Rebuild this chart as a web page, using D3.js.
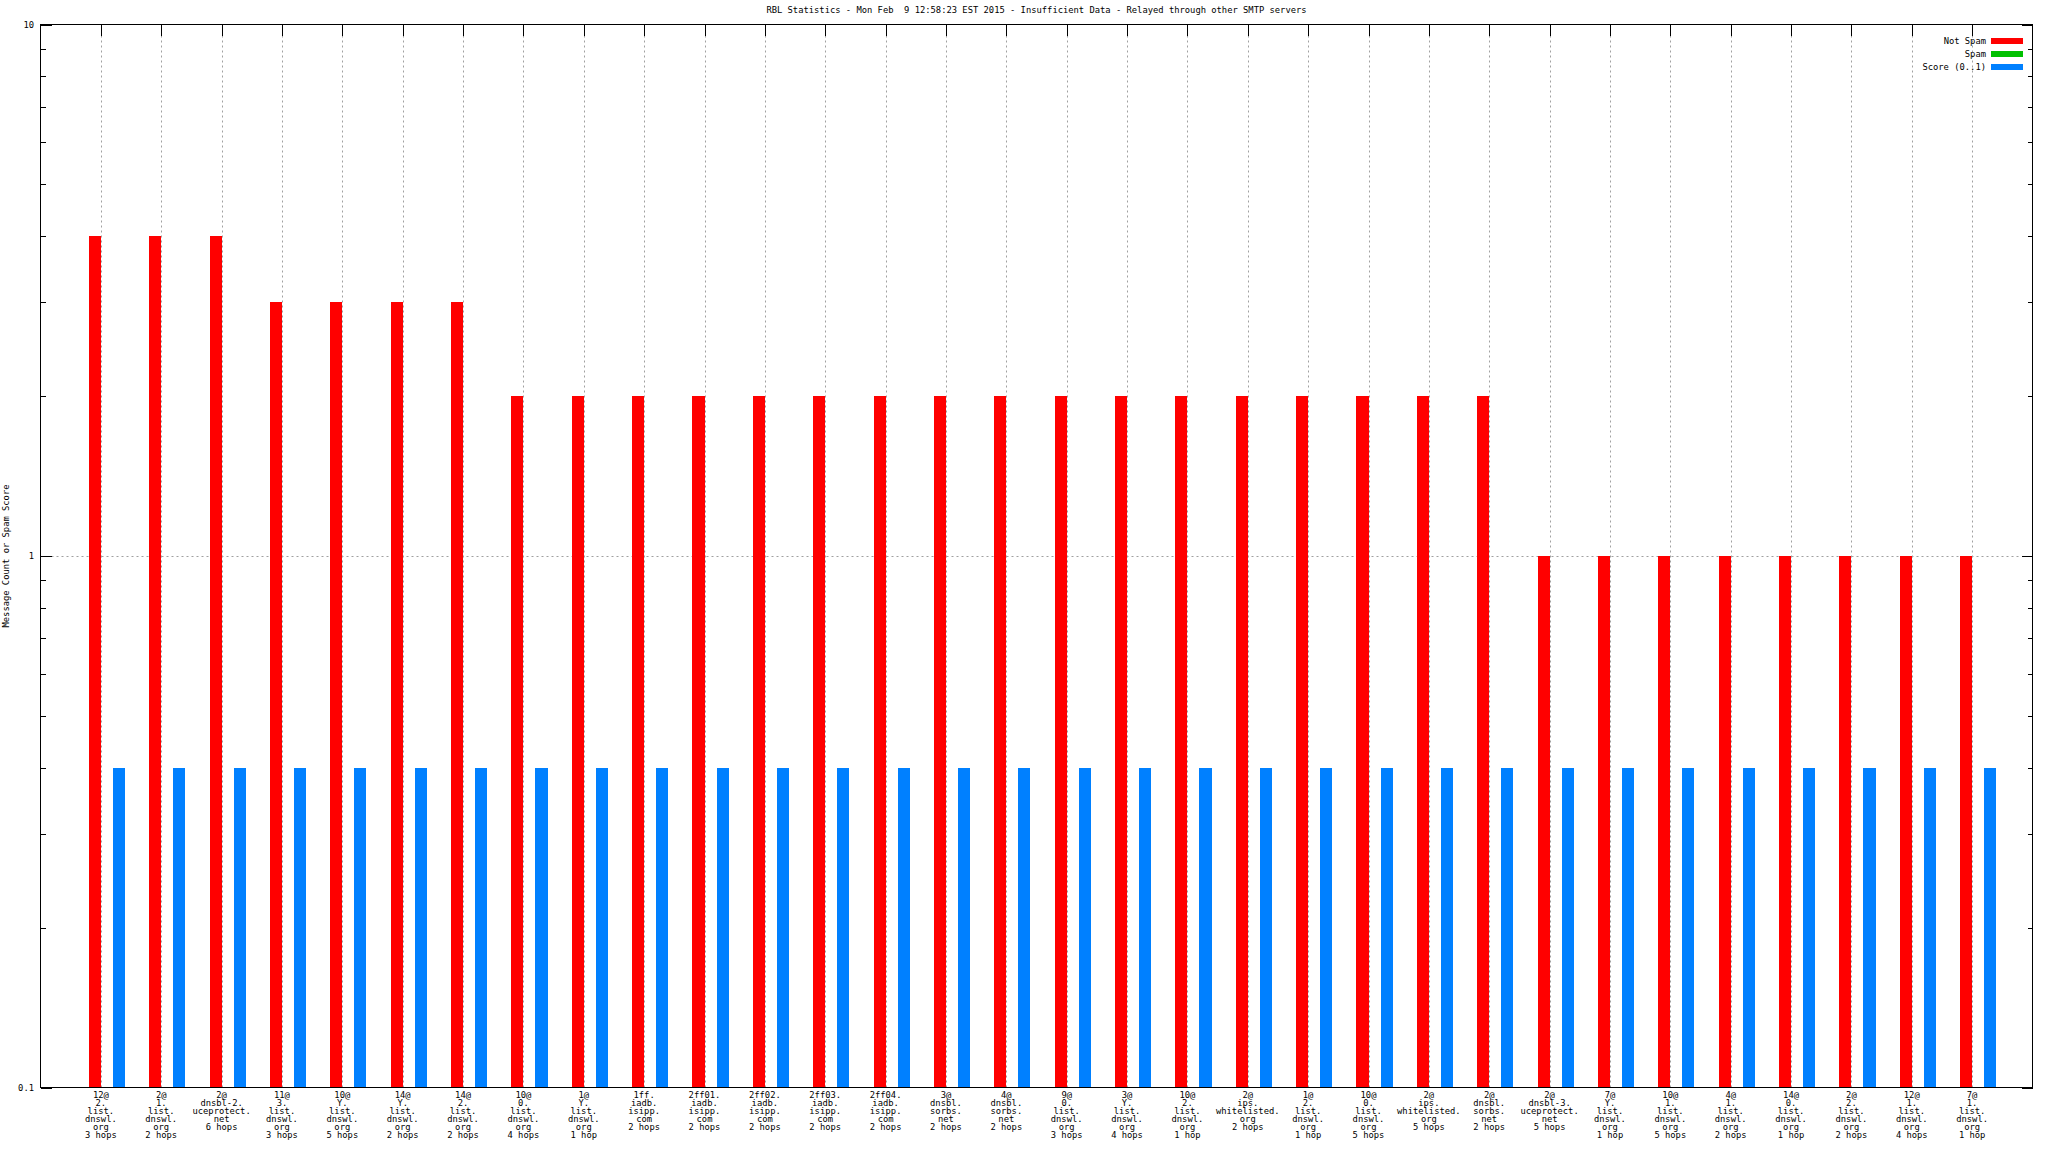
<!DOCTYPE html>
<html><head><meta charset="utf-8">
<script src="https://cdn.jsdelivr.net/npm/d3@7"></script>
<style>
html,body{margin:0;padding:0;background:#fff;}
svg{display:block;}
text{font-family:"DejaVu Sans Mono",monospace;font-size:8.8px;fill:#000;white-space:pre;}
</style></head><body>
<svg id="c" width="2048" height="1152"></svg>
<script>
const title = "RBL Statistics - Mon Feb  9 12:58:23 EST 2015 - Insufficient Data - Relayed through other SMTP servers";
const yLabel = "Message Count or Spam Score";
const categories = [
 "12@\n2.\nlist.\ndnswl.\norg\n3 hops",
 "2@\n1.\nlist.\ndnswl.\norg\n2 hops",
 "2@\ndnsbl-2.\nuceprotect.\nnet\n6 hops",
 "11@\n3.\nlist.\ndnswl.\norg\n3 hops",
 "10@\nY.\nlist.\ndnswl.\norg\n5 hops",
 "14@\nY.\nlist.\ndnswl.\norg\n2 hops",
 "14@\n2.\nlist.\ndnswl.\norg\n2 hops",
 "10@\n0.\nlist.\ndnswl.\norg\n4 hops",
 "1@\nY.\nlist.\ndnswl.\norg\n1 hop",
 "1ff.\niadb.\nisipp.\ncom\n2 hops",
 "2ff01.\niadb.\nisipp.\ncom\n2 hops",
 "2ff02.\niadb.\nisipp.\ncom\n2 hops",
 "2ff03.\niadb.\nisipp.\ncom\n2 hops",
 "2ff04.\niadb.\nisipp.\ncom\n2 hops",
 "3@\ndnsbl.\nsorbs.\nnet\n2 hops",
 "4@\ndnsbl.\nsorbs.\nnet\n2 hops",
 "9@\n0.\nlist.\ndnswl.\norg\n3 hops",
 "3@\nY.\nlist.\ndnswl.\norg\n4 hops",
 "10@\n2.\nlist.\ndnswl.\norg\n1 hop",
 "2@\nips.\nwhitelisted.\norg\n2 hops",
 "1@\n2.\nlist.\ndnswl.\norg\n1 hop",
 "10@\n0.\nlist.\ndnswl.\norg\n5 hops",
 "2@\nips.\nwhitelisted.\norg\n5 hops",
 "2@\ndnsbl.\nsorbs.\nnet\n2 hops",
 "2@\ndnsbl-3.\nuceprotect.\nnet\n5 hops",
 "7@\nY.\nlist.\ndnswl.\norg\n1 hop",
 "10@\n1.\nlist.\ndnswl.\norg\n5 hops",
 "4@\n1.\nlist.\ndnswl.\norg\n2 hops",
 "14@\n0.\nlist.\ndnswl.\norg\n1 hop",
 "2@\n2.\nlist.\ndnswl.\norg\n2 hops",
 "12@\n1.\nlist.\ndnswl.\norg\n4 hops",
 "7@\n1.\nlist.\ndnswl.\norg\n1 hop"
];
const notSpam = [4,4,4,3,3,3,3,2,2,2,2,2,2,2,2,2,2,2,2,2,2,2,2,2,1,1,1,1,1,1,1,1];
const spam    = [0,0,0,0,0,0,0,0,0,0,0,0,0,0,0,0,0,0,0,0,0,0,0,0,0,0,0,0,0,0,0,0];
const score   = [0.4,0.4,0.4,0.4,0.4,0.4,0.4,0.4,0.4,0.4,0.4,0.4,0.4,0.4,0.4,0.4,0.4,0.4,0.4,0.4,0.4,0.4,0.4,0.4,0.4,0.4,0.4,0.4,0.4,0.4,0.4,0.4];
const seriesNames = ["Not Spam","Spam","Score (0..1)"];
const seriesColors = ["#ff0000","#00c000","#0080ff"];
const yMajor = [0.1,1,10];

const L=40.5, R=2032.5, T=24.5, B=1087.5;
const svg = d3.select("#c");
const x = d3.scaleLinear().domain([-1, categories.length]).range([L, R]);
const y = d3.scaleLog().domain([0.1, 10]).range([B, T]);
const slot = 0.2;

const yMinor = [];
for (const d of [0.1,1]) for (let k=2;k<=9;k++) yMinor.push(d*k);

// grid
const grid = svg.append("g").attr("stroke","#a0a0a0").attr("stroke-dasharray","2,3").attr("stroke-width",1);
categories.forEach((c,i)=>{
  grid.append("line").attr("x1",Math.round(x(i))+0.5).attr("x2",Math.round(x(i))+0.5).attr("y1",T+11).attr("y2",B);
});
grid.append("line").attr("x1",L+11).attr("x2",R-11).attr("y1",Math.round(y(1))+0.5).attr("y2",Math.round(y(1))+0.5);

// bars
const allSeries=[notSpam, spam, score];
allSeries.forEach((vals,s)=>{
  svg.append("g").selectAll("rect").data(vals.map((v,i)=>({v,i}))).enter()
    .filter(d=>d.v>0)
    .append("rect")
    .attr("x",d=>Math.round(x(d.i + (s-1)*slot)))
    .attr("width",d=>Math.round(x(d.i + s*slot)) - Math.round(x(d.i + (s-1)*slot)))
    .attr("y",d=>Math.round(y(d.v)))
    .attr("height",d=>Math.round(B) - Math.round(y(d.v)))
    .attr("fill",seriesColors[s]);
});

// axes ticks
const ax = svg.append("g").attr("stroke","#000").attr("stroke-width",1).attr("shape-rendering","crispEdges");
yMajor.forEach(v=>{
  const yy=Math.round(y(v))+0.5;
  ax.append("line").attr("x1",L).attr("x2",L+11).attr("y1",yy).attr("y2",yy);
  ax.append("line").attr("x1",R-11).attr("x2",R).attr("y1",yy).attr("y2",yy);
});
yMinor.forEach(v=>{
  const yy=Math.round(y(v))+0.5;
  ax.append("line").attr("x1",L).attr("x2",L+5).attr("y1",yy).attr("y2",yy);
  ax.append("line").attr("x1",R-5).attr("x2",R).attr("y1",yy).attr("y2",yy);
});
categories.forEach((c,i)=>{
  const xx=Math.round(x(i))+0.5;
  ax.append("line").attr("x1",xx).attr("x2",xx).attr("y1",T).attr("y2",T+11);
});
ax.append("rect").attr("x",L).attr("y",T).attr("width",R-L).attr("height",B-T).attr("fill","none");

// y tick labels
svg.append("g").selectAll("text").data(yMajor).enter().append("text")
  .attr("x",34).attr("y",d=>y(d)).attr("dy","0.35em").attr("text-anchor","end").text(d=>d);

// x labels
const xl = svg.append("g");
categories.forEach((c,i)=>{
  const t = xl.append("text").attr("text-anchor","middle");
  c.split("\n").forEach((ln,j)=>{
    t.append("tspan").attr("x",x(i)).attr("y",1098+j*8.06).text(ln);
  });
});

// title
svg.append("text").attr("x",(L+R)/2).attr("y",13).attr("text-anchor","middle").attr("xml:space","preserve").text(title);
// y label
svg.append("text").attr("transform",`translate(9,${(T+B)/2}) rotate(-90)`).attr("text-anchor","middle").text(yLabel);

// legend
const lg = svg.append("g");
seriesNames.forEach((n,k)=>{
  const cy = 41.3 + k*13;
  lg.append("text").attr("x",1986).attr("y",cy).attr("dy","0.35em").attr("text-anchor","end").text(n);
  lg.append("rect").attr("x",1991).attr("y",Math.round(cy-3)).attr("width",32).attr("height",6).attr("fill",seriesColors[k]);
});
</script>
</body></html>
